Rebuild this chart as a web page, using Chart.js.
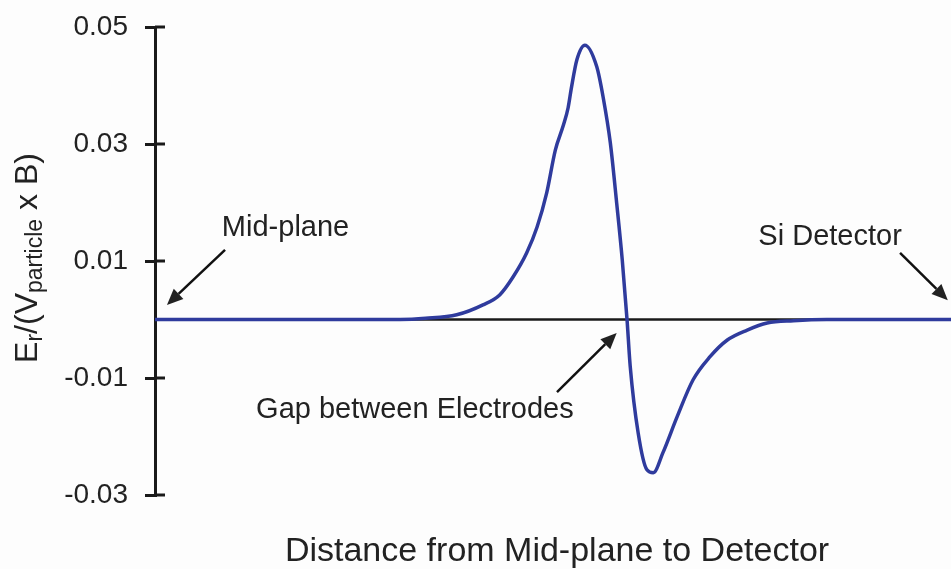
<!DOCTYPE html>
<html>
<head>
<meta charset="utf-8">
<script src="https://cdn.jsdelivr.net/npm/chart.js@4/dist/chart.umd.min.js"></script>
<style>
  html, body { margin: 0; padding: 0; background: #fdfdfd; }
  #wrap { width: 951px; height: 569px; }
</style>
</head>
<body>
<div id="wrap"><canvas id="chart"></canvas></div>
<script>
/* DATA (distance in arbitrary units, 0 = mid-plane, 100 = detector) */
const xDist = [0, 30.8, 34.0, 37.9, 41.2, 43.3, 45.0, 46.7, 48.0, 49.2, 50.3, 51.3, 51.9, 52.3, 53.0, 54.0,
  55.5, 56.3, 57.2, 58.0, 58.7, 59.3, 59.7, 60.7, 61.8, 62.6, 63.8, 65.6, 67.6, 69.7, 71.9,
  74.4, 76.9, 80.2, 84.4, 100];
const erField = [0, 0, 0.0002, 0.0008, 0.0025, 0.0042, 0.0073, 0.0114, 0.0158, 0.0216, 0.029, 0.0332,
  0.0362, 0.0395, 0.0444, 0.0469, 0.0432, 0.038, 0.0302, 0.0199, 0.0102, 0, -0.008, -0.0194, -0.0257,
  -0.0262, -0.0228, -0.0166, -0.0103, -0.0064, -0.0035, -0.0018, -0.0006, -0.0002, 0, 0];
const yTicks = [-0.03, -0.01, 0.01, 0.03, 0.05];

const xTitle = "Distance from Mid-plane to Detector";
const notes = [
  { text: "Mid-plane", tx: 8.4, ty: 0.0156, from: [8.8, 0.0119], to: [1.5, 0.0025] },
  { text: "Si Detector", tx: 75.8, ty: 0.0141, from: [93.6, 0.0114], to: [99.6, 0.0033] },
  { text: "Gap between Electrodes", tx: 12.7, ty: -0.0155, from: [50.5, -0.0124], to: [58.0, -0.0023] }
];

const FONT = '"Liberation Sans", Arial, sans-serif';
const INK = "#222";

function arrow(ctx, x1, y1, x2, y2) {
  const a = Math.atan2(y2 - y1, x2 - x1), L = 16, W = 7;
  const bx = x2 - L * Math.cos(a), by = y2 - L * Math.sin(a);
  ctx.beginPath();
  ctx.moveTo(x1, y1);
  ctx.lineTo(bx, by);
  ctx.stroke();
  ctx.beginPath();
  ctx.moveTo(x2, y2);
  ctx.lineTo(bx + W * Math.sin(a), by - W * Math.cos(a));
  ctx.lineTo(bx - W * Math.sin(a), by + W * Math.cos(a));
  ctx.closePath();
  ctx.fill();
}

/* extras: zero line, inner tick halves, notes, axis titles */
const extras = {
  id: "extras",
  beforeDatasetsDraw(chart) {
    const { ctx, chartArea: ca, scales: { y } } = chart;
    const y0 = y.getPixelForValue(0);
    ctx.save();
    ctx.strokeStyle = "#1a1a1a";
    ctx.lineWidth = 2.5;
    ctx.beginPath();
    ctx.moveTo(ca.left, y0);
    ctx.lineTo(ca.right, y0);
    ctx.stroke();
    ctx.lineWidth = 3;
    yTicks.forEach(v => {
      const p = y.getPixelForValue(v);
      ctx.beginPath();
      ctx.moveTo(ca.left, p);
      ctx.lineTo(ca.left + 10, p);
      ctx.stroke();
    });
    ctx.restore();
  },
  afterDraw(chart) {
    const { ctx, scales: { x, y } } = chart;
    ctx.save();
    ctx.fillStyle = INK;
    ctx.strokeStyle = "#111";
    ctx.lineWidth = 2.5;
    ctx.font = "29px " + FONT;
    ctx.textBaseline = "middle";
    notes.forEach(n => {
      ctx.fillText(n.text, x.getPixelForValue(n.tx), y.getPixelForValue(n.ty));
      arrow(ctx, x.getPixelForValue(n.from[0]), y.getPixelForValue(n.from[1]),
        x.getPixelForValue(n.to[0]), y.getPixelForValue(n.to[1]));
    });

    // x title
    ctx.font = "34px " + FONT;
    ctx.textAlign = "center";
    ctx.fillText(xTitle, 557, 552);

    // y title with subscripts: Er/(Vparticle x B)
    const parts = [["E", 0], ["r", 1], ["/(V", 0], ["particle", 1], [" x B)", 0]];
    const big = "32px " + FONT, small = "23px " + FONT;
    ctx.textAlign = "left";
    ctx.textBaseline = "alphabetic";
    let total = 0;
    parts.forEach(p => { ctx.font = p[1] ? small : big; total += ctx.measureText(p[0]).width; });
    ctx.translate(37, 258);
    ctx.rotate(-Math.PI / 2);
    let cx = -total / 2;
    parts.forEach(p => {
      ctx.font = p[1] ? small : big;
      ctx.fillText(p[0], cx, p[1] ? 5 : 0);
      cx += ctx.measureText(p[0]).width;
    });
    ctx.restore();
  }
};

new Chart(document.getElementById("chart"), {
  type: "line",
  data: {
    datasets: [{
      data: xDist.map((d, i) => ({ x: d, y: erField[i] })),
      borderColor: "#2f3b9d",
      borderWidth: 3.5,
      pointRadius: 0,
      cubicInterpolationMode: "monotone",
      fill: false
    }]
  },
  options: {
    responsive: true,
    maintainAspectRatio: false,
    animation: false,
    layout: { padding: { top: 27, bottom: 74, left: 0, right: 0 } },
    plugins: { legend: { display: false }, tooltip: { enabled: false } },
    scales: {
      x: { type: "linear", min: 0, max: 100, display: false },
      y: {
        min: -0.03, max: 0.05,
        afterBuildTicks: s => { s.ticks = yTicks.map(v => ({ value: v })); },
        afterFit: s => { s.width = 155; s.paddingTop = 0; s.paddingBottom = 0; },
        ticks: {
          padding: 17,
          color: INK,
          font: { family: FONT, size: 28 },
          callback: v => v.toFixed(2)
        },
        grid: { drawOnChartArea: false, tickLength: 10, color: "#1a1a1a", lineWidth: 3 },
        border: { color: "#1a1a1a", width: 3 }
      }
    }
  },
  plugins: [extras]
});
</script>
</body>
</html>
